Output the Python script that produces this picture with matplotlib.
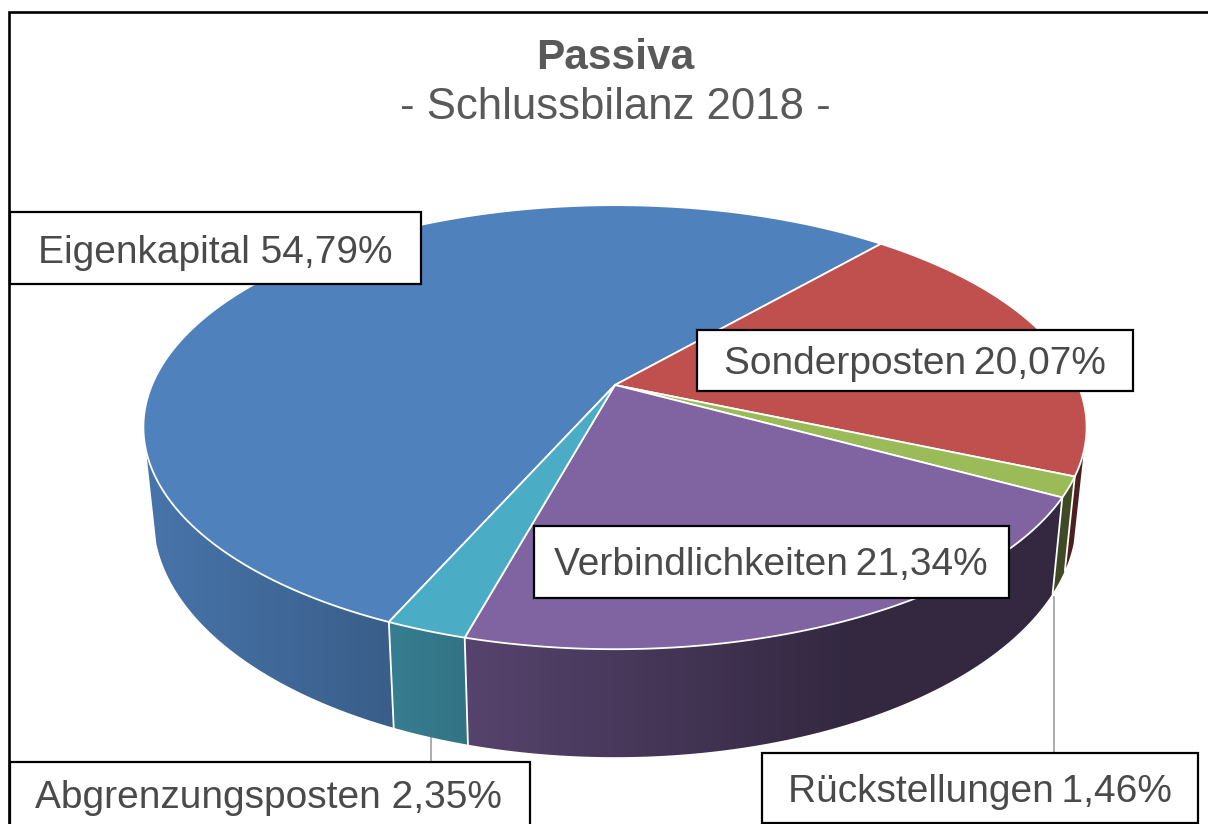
#!/usr/bin/env python3
"""Passiva 3D pie, drawn in pixel coordinates of the 1208x824 picture."""

import matplotlib

matplotlib.use("Agg")

import matplotlib.pyplot as plt
import numpy as np
from matplotlib.patches import Polygon, Rectangle

plt.rcParams["font.family"] = ["Liberation Sans", "DejaVu Sans"]

CATEGORIES = ["Eigenkapital", "Sonderposten", "Rückstellungen", "Verbindlichkeiten", "Abgrenzungsposten"]
VALUES = [54.79, 20.07, 1.46, 21.34, 2.35]
TITLE = "Passiva"
SUBTITLE = "- Schlussbilanz 2018 -"

COLORS = ["#4f81bd", "#c0504d", "#9bbb59", "#8064a2", "#4bacc6"]
TEXT_COLOR = "#4a4a4a"
TITLE_COLOR = "#595959"

# label boxes in picture pixels: left, top, right, bottom, text centre x, text centre y, gap
BOXES = {
    "Eigenkapital": (9.5, 212, 420.5, 284, 215, 253, " "),
    "Sonderposten": (697, 330, 1133, 391, 915, 364, "\u2009"),
    "Rückstellungen": (762, 753, 1198, 823, 980, 792, "\u2009"),
    "Verbindlichkeiten": (534, 526, 1009, 598, 771, 565, "\u2009"),
    "Abgrenzungsposten": (10, 762, 530, 840, 268, 798, " "),
}

START = 203.8
CX = 615
KEY = 0.19


def project(theta, bottom=False):
    t = np.radians(theta)
    u, v = np.sin(t), np.cos(t)
    scale = 1 + KEY * v
    if bottom:
        return CX + 453 * u / scale, 472 - 231 * v / scale
    return CX + 463 * u / scale, 385 - 214 * v / scale


def side_shade(x):
    return np.clip(0.90 - (x - 150) * 0.000714, 0.40, 0.95)


def draw_side(ax, first, last, color):
    first, last = max(first, 107.0), min(last, 253.0)
    if last <= first:
        return
    base = np.array(matplotlib.colors.to_rgb(color))
    angles = np.linspace(first, last, max(int((last - first) * 4), 4))
    tx, ty = project(angles)
    bx, by = project(angles, bottom=True)
    outline = np.column_stack([np.r_[tx, bx[::-1]], np.r_[ty, by[::-1]]])
    patch = Polygon(outline, closed=True, facecolor="none", edgecolor="none", transform=ax.transData)
    ax.add_patch(patch)
    # horizontal gradient, clipped to the side band of the slice
    x0, x1 = outline[:, 0].min() - 2, outline[:, 0].max() + 2
    y0, y1 = outline[:, 1].min() - 2, outline[:, 1].max() + 2
    columns = np.linspace(x0, x1, max(int(x1 - x0), 2))
    strip = side_shade(columns)[None, :, None] * base[None, None, :]
    image = ax.imshow(strip, extent=(x0, x1, y1, y0), aspect="auto", interpolation="bilinear", zorder=2)
    image.set_clip_path(patch)


def main():
    fig = plt.figure(figsize=(12.08, 8.24), dpi=100, facecolor="white")
    ax = fig.add_axes([0, 0, 1, 1])
    ax.axis("off")

    bounds = START + np.concatenate([[0], np.cumsum(VALUES)]) * 3.6
    bounds[-1] = START + 360
    # slices run clockwise from the top and may cross 360
    for i, color in enumerate(COLORS):
        a, b = bounds[i], bounds[i + 1]
        for shift in (0, -360):
            draw_side(ax, a + shift, b + shift, color)

    for i, color in enumerate(COLORS):
        a, b = bounds[i], bounds[i + 1]
        angles = np.linspace(a, b, max(int((b - a) * 2), 3))
        x, y = project(angles)
        poly = np.column_stack([np.r_[CX, x], np.r_[385, y]])
        ax.fill(poly[:, 0], poly[:, 1], facecolor=color, edgecolor="white", linewidth=1.3,
                joinstyle="round", zorder=4)

    # white seams on the visible side between the slices
    for edge in bounds[:-1]:
        theta = edge % 360
        if 107 < theta < 253:
            tx, ty = project(theta)
            bx, by = project(theta, bottom=True)
            ax.plot([tx, bx], [ty, by], color="white", linewidth=1.3, zorder=3)

    # leader lines
    ax.plot([1054, 1054], [597, 753], color="#a6a6a6", linewidth=1.3, zorder=1)
    ax.plot([431, 431], [737, 762], color="#a6a6a6", linewidth=1.3, zorder=1)

    # frame of the screenshot
    ax.plot([9, 9, 1208], [824, 11.5, 11.5], color="black", linewidth=1.9, zorder=5,
            solid_joinstyle="miter")

    for name, value in zip(CATEGORIES, VALUES):
        left, top, right, bottom, tx, ty, gap = BOXES[name]
        ax.add_patch(Rectangle((left, top), right - left, bottom - top, facecolor="white",
                               edgecolor="black", linewidth=1.6, zorder=6))
        label = f"{name}{gap}{value:.2f}%".replace(".", ",")
        ax.text(tx, ty, label, fontsize=28, color=TEXT_COLOR, ha="center", va="center", zorder=7)

    ax.text(615, 58, TITLE, fontsize=30.5, fontweight="bold", color=TITLE_COLOR, ha="center", va="center")
    ax.text(615, 107, SUBTITLE, fontsize=31.5, color=TITLE_COLOR, ha="center", va="center")

    ax.set_xlim(0, 1208)
    ax.set_ylim(824, 0)
    fig.savefig("out.png", dpi=100)
    plt.close(fig)


if __name__ == "__main__":
    main()
